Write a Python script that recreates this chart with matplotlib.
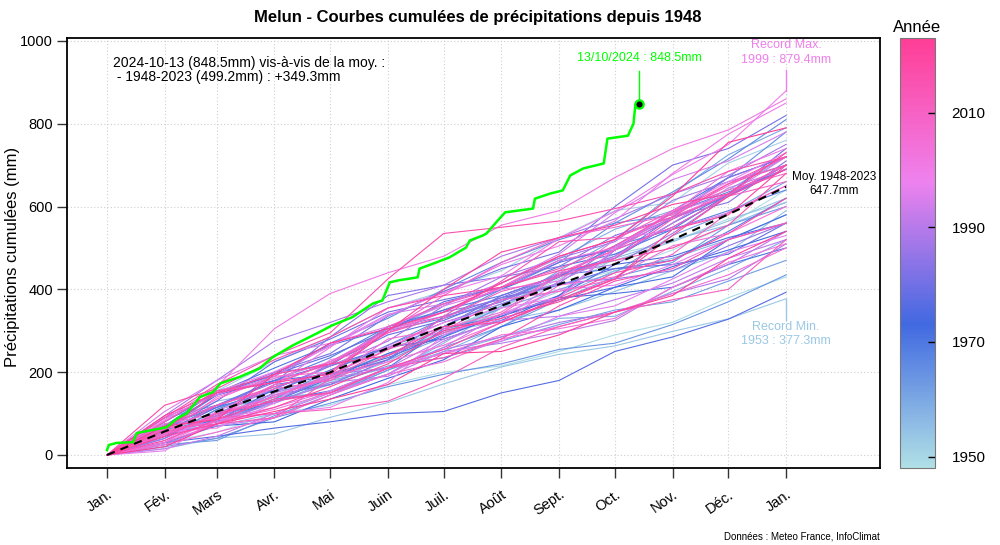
import numpy as np
import matplotlib
matplotlib.use("Agg")
import matplotlib.pyplot as plt
from matplotlib.colors import LinearSegmentedColormap, Normalize
from matplotlib.cm import ScalarMappable

plt.rcParams['font.family'] = ['Liberation Sans', 'DejaVu Sans']

# ---------------- data ----------------
month_labels = ['Jan.', 'Fév.', 'Mars', 'Avr.', 'Mai', 'Juin', 'Juil.', 'Août',
                'Sept.', 'Oct.', 'Nov.', 'Déc.', 'Jan.']
month_starts = [0, 31, 59, 90, 120, 151, 181, 212, 243, 273, 304, 334, 365]

first_year = 1948
last_year = 2023

# monthly precipitation (mm), Jan..Dec, one row per year
monthly_1940s = [
    [75, 40, 20, 45, 60, 55, 70, 45, 35, 50, 60, 85],      # 1948
    [30, 25, 45, 20, 50, 30, 15, 35, 40, 30, 60, 50],      # 1949
]
monthly_1950s = [
    [40, 70, 35, 50, 45, 60, 55, 70, 60, 30, 55, 40],      # 1950
    [80, 75, 70, 60, 70, 40, 50, 80, 65, 20, 95, 55],      # 1951
    [60, 35, 55, 65, 40, 50, 35, 55, 80, 85, 70, 70],      # 1952
    [15.2, 25.4, 10.1, 40.3, 35.6, 45.2, 40.8, 30.5, 20.4, 35.1, 30.2, 48.5],  # 1953
    [45, 55, 40, 35, 50, 75, 60, 70, 40, 45, 50, 55],      # 1954
    [70, 60, 25, 15, 70, 55, 30, 25, 45, 50, 45, 100],     # 1955
    [55, 15, 30, 55, 40, 75, 85, 80, 40, 45, 35, 55],      # 1956
    [45, 65, 30, 10, 55, 45, 60, 75, 60, 30, 45, 60],      # 1957
    [60, 85, 40, 40, 75, 65, 50, 60, 70, 45, 50, 80],      # 1958
    [75, 5, 45, 55, 30, 35, 40, 45, 5, 60, 55, 70],        # 1959
]
monthly_1960s = [
    [55, 60, 40, 30, 45, 55, 75, 85, 75, 110, 95, 65],     # 1960
    [90, 30, 10, 60, 55, 50, 60, 45, 40, 90, 55, 75],      # 1961
    [55, 25, 50, 40, 45, 20, 40, 40, 35, 20, 50, 50],      # 1962
    [25, 10, 60, 50, 60, 55, 50, 65, 55, 35, 90, 45],      # 1963
    [20, 20, 50, 35, 40, 30, 25, 35, 15, 45, 55, 65],      # 1964
    [60, 25, 50, 70, 60, 65, 70, 65, 95, 20, 90, 110],     # 1965
    [70, 85, 35, 80, 60, 70, 65, 55, 40, 75, 80, 95],      # 1966
    [40, 70, 55, 35, 100, 30, 40, 60, 75, 80, 50, 55],     # 1967
    [70, 45, 40, 50, 55, 50, 65, 55, 75, 40, 45, 50],      # 1968
    [55, 65, 60, 55, 75, 40, 35, 50, 15, 20, 70, 80],      # 1969
]
monthly_1970s = [
    [80, 70, 60, 55, 40, 45, 50, 55, 30, 60, 85, 60],      # 1970
    [60, 25, 45, 25, 55, 95, 30, 45, 10, 15, 55, 40],      # 1971
    [45, 50, 35, 55, 60, 40, 55, 35, 30, 25, 90, 60],      # 1972
    [30, 40, 10, 55, 50, 45, 80, 40, 55, 50, 40, 45],      # 1973
    [70, 75, 35, 15, 40, 55, 45, 50, 110, 95, 80, 50],     # 1974
    [60, 20, 80, 55, 45, 20, 45, 60, 75, 20, 45, 35],      # 1975
    [30, 15, 20, 15, 20, 5, 45, 30, 70, 35, 43, 65],       # 1976
    [65, 80, 50, 45, 60, 70, 35, 65, 25, 55, 75, 75],      # 1977
    [55, 60, 65, 40, 70, 35, 55, 30, 40, 10, 25, 75],      # 1978
    [60, 70, 95, 55, 65, 30, 30, 60, 35, 70, 60, 110],     # 1979
]
monthly_1980s = [
    [50, 45, 75, 20, 40, 80, 75, 50, 45, 95, 50, 75],      # 1980
    [55, 35, 110, 45, 90, 60, 55, 40, 110, 100, 40, 80],   # 1981
    [60, 20, 65, 25, 60, 105, 45, 55, 40, 85, 70, 60],     # 1982
    [70, 50, 55, 110, 100, 25, 20, 25, 75, 45, 35, 100],   # 1983
    [90, 55, 55, 15, 95, 35, 30, 40, 90, 70, 95, 50],      # 1984
    [50, 25, 55, 60, 75, 55, 45, 50, 10, 20, 60, 55],      # 1985
    [75, 10, 65, 70, 85, 30, 35, 70, 20, 75, 90, 65],      # 1986
    [40, 60, 60, 55, 60, 85, 70, 45, 40, 100, 45, 40],     # 1987
    [95, 85, 95, 45, 50, 40, 70, 45, 45, 60, 45, 75],      # 1988
    [25, 50, 55, 65, 15, 45, 30, 35, 25, 45, 35, 85],      # 1989
]
monthly_1990s = [
    [30, 75, 20, 50, 15, 60, 20, 25, 30, 80, 55, 80],      # 1990
    [50, 40, 60, 35, 25, 70, 45, 10, 40, 40, 60, 45],      # 1991
    [15, 30, 55, 50, 45, 80, 55, 90, 60, 80, 85, 45],      # 1992
    [60, 10, 20, 55, 50, 65, 80, 40, 115, 90, 45, 90],     # 1993
    [90, 55, 45, 75, 75, 25, 50, 70, 100, 80, 45, 70],     # 1994
    [105, 75, 60, 30, 40, 50, 40, 20, 100, 25, 40, 65],    # 1995
    [30, 55, 30, 40, 55, 35, 30, 60, 25, 65, 65, 40],      # 1996
    [10, 75, 15, 15, 60, 115, 50, 60, 10, 50, 60, 40],     # 1997
    [55, 10, 60, 105, 30, 60, 35, 25, 120, 90, 70, 70],    # 1998
    [82.3, 70.5, 48.2, 60.6, 75.4, 55.1, 40.3, 90.7, 65.2, 88.9, 72.6, 129.6],  # 1999
]
monthly_2000s = [
    [35, 70, 65, 90, 95, 35, 70, 45, 60, 115, 95, 75],     # 2000
    [85, 80, 140, 85, 50, 40, 75, 35, 80, 70, 45, 75],     # 2001
    [50, 90, 45, 40, 75, 45, 60, 65, 30, 85, 100, 55],     # 2002
    [60, 20, 30, 40, 60, 35, 45, 15, 25, 75, 60, 45],      # 2003
    [75, 25, 40, 50, 35, 40, 55, 90, 20, 75, 30, 65],      # 2004
    [25, 30, 35, 55, 50, 30, 55, 30, 35, 45, 45, 65],      # 2005
    [30, 45, 70, 40, 95, 25, 40, 95, 55, 80, 55, 70],      # 2006
    [65, 70, 55, 10, 100, 85, 80, 60, 25, 30, 70, 70],     # 2007
    [65, 25, 80, 55, 70, 50, 60, 75, 40, 70, 50, 40],      # 2008
    [50, 45, 45, 55, 60, 45, 75, 20, 30, 60, 100, 65],     # 2009
]
monthly_2010s = [
    [50, 70, 40, 20, 60, 55, 45, 95, 60, 55, 75, 35],      # 2010
    [55, 35, 10, 10, 20, 55, 75, 50, 35, 30, 25, 120],     # 2011
    [65, 10, 15, 95, 70, 75, 65, 35, 45, 95, 60, 70],      # 2012
    [70, 50, 45, 35, 110, 55, 40, 45, 55, 80, 70, 65],     # 2013
    [80, 75, 20, 45, 75, 40, 85, 95, 10, 50, 80, 45],      # 2014
    [45, 55, 30, 20, 60, 25, 45, 80, 60, 30, 70, 40],      # 2015
    [90, 80, 70, 55, 130, 110, 15, 15, 30, 35, 55, 35],    # 2016
    [35, 50, 50, 15, 60, 45, 65, 60, 60, 30, 65, 85],      # 2017
    [120, 40, 70, 55, 70, 30, 20, 40, 25, 30, 55, 125],    # 2018
    [45, 30, 40, 50, 55, 80, 30, 40, 55, 105, 95, 65],     # 2019
]
monthly_2020s = [
    [60, 90, 45, 25, 20, 70, 10, 55, 50, 120, 35, 120],    # 2020
    [95, 55, 25, 20, 105, 100, 90, 35, 30, 50, 25, 100],   # 2021
    [20, 55, 30, 30, 35, 75, 5, 40, 55, 40, 90, 65],       # 2022
    [70, 15, 110, 75, 35, 40, 70, 65, 40, 105, 130, 35],   # 2023
]

# 2024 cumulative curve (day of year, cumulative mm) up to 13/10/2024
days_2024 = [0, 1, 5, 14, 16, 32, 38, 43, 50, 57, 61, 71, 82, 89, 100, 113, 121,
             132, 143, 148, 152, 157, 167, 168, 177, 184, 193, 195, 202, 204,
             210, 214, 229, 230, 238, 245, 249, 256, 267, 269, 280, 283, 284, 286]
cum_2024 = [12, 24, 29, 31, 53, 67, 89, 101, 140, 152, 173, 188, 209, 236, 265,
            294, 313, 333, 366, 373, 417, 422, 429, 450, 465, 477, 501, 518, 530,
            535, 566, 586, 595, 619, 631, 639, 675, 692, 704, 764, 771, 800, 846,
            848.5]

title = "Melun - Courbes cumulées de précipitations depuis 1948"
info_line1 = "2024-10-13 (848.5mm) vis-à-vis de la moy. :"
info_line2 = " - 1948-2023 (499.2mm) : +349.3mm"
last_label = "13/10/2024 : 848.5mm"
max_year, max_value = 1999, 879.4
min_year, min_value = 1953, 377.3
mean_total = 647.7
colorbar_ticks = [1950, 1970, 1990, 2010]

# ---------------- figure ----------------
monthly = np.array(monthly_1940s + monthly_1950s + monthly_1960s + monthly_1970s
                   + monthly_1980s + monthly_1990s + monthly_2000s + monthly_2010s
                   + monthly_2020s, dtype=float)
years = np.arange(first_year, last_year + 1)
cum = np.hstack([np.zeros((len(years), 1)), np.cumsum(monthly, axis=1)])
x_nodes = np.array(month_starts, dtype=float)

cmap = LinearSegmentedColormap.from_list(
    "annee", ["powderblue", "royalblue", "violet", "#FF3E96"])
norm = Normalize(vmin=first_year, vmax=last_year)

fig = plt.figure(figsize=(10, 5.45), dpi=100)
ax = fig.add_axes([0.067, 0.1413, 0.813, 0.789])

ax.set_xlim(-21.5, 415.5)
ax.set_ylim(-31.4, 1007)

for xv in month_starts:
    ax.axvline(xv, color="#cfcfcf", lw=0.8, ls=(0, (1, 2)), zorder=0)
for yv in range(0, 1001, 200):
    ax.axhline(yv, color="#cfcfcf", lw=0.8, ls=(0, (1, 2)), zorder=0)

for i, yr in enumerate(years):
    ax.plot(x_nodes, cum[i], color=cmap(norm(yr)), lw=0.8, zorder=2)

mean_curve = cum.mean(axis=0)
ax.plot(x_nodes, mean_curve, color="black", lw=1.5, ls=(0, (4, 3)), zorder=4)

# 2024
green = "#00FF00"
ax.plot(days_2024, cum_2024, color=green, lw=1.8, zorder=5)
ax.plot([days_2024[-1], days_2024[-1]], [cum_2024[-1], 928], color=green, lw=1, zorder=5)
ax.plot(days_2024[-1], cum_2024[-1], marker="o", ms=6, mfc="black", mec=green,
        mew=1.6, zorder=6)
ax.text(days_2024[-1], 959, last_label, color=green, fontsize=9, ha="center", va="center")

# record max
cmax = cmap(norm(max_year))
ax.plot([365, 365], [max_value, 930], color=cmax, lw=1, zorder=5)
ax.text(365, 990, "Record Max.", color=cmax, fontsize=9, ha="center", va="center")
ax.text(365, 954, f"{max_year} : {max_value}mm", color=cmax, fontsize=9,
        ha="center", va="center")

# record min
cmin = cmap(norm(min_year))
ax.plot([365, 365], [min_value, 325], color=cmin, lw=1, zorder=5)
ax.text(365, 308, "Record Min.", color=cmin, fontsize=9, ha="center", va="center")
ax.text(365, 275, f"{min_year} : {min_value}mm", color=cmin, fontsize=9,
        ha="center", va="center")

# mean label
ax.text(391, 672, "Moy. 1948-2023", color="black", fontsize=8.5, ha="center", va="center")
ax.text(391, 638, f"{mean_total}mm", color="black", fontsize=8.5, ha="center", va="center")

# info text
ax.text(3, 947, info_line1, fontsize=10, ha="left", va="center")
ax.text(3, 913, info_line2, fontsize=10, ha="left", va="center")

# axes styling
ax.set_xticks(month_starts)
ax.set_xticklabels(month_labels, rotation=35, ha="right", va="top",
                   rotation_mode="anchor", fontsize=10.5)
ax.set_yticks(range(0, 1001, 200))
ax.tick_params(axis="y", labelsize=10.5, length=7, width=1, color="#333333", pad=3)
ax.tick_params(axis="x", length=7, width=1, color="#333333", pad=7)
for sp in ax.spines.values():
    sp.set_linewidth(1.3)
    sp.set_color("black")

fig.text(0.4775, 0.967, title, fontsize=12, fontweight="bold", ha="center", va="center")
fig.text(0.013, 0.528, "Précipitations cumulées (mm)", fontsize=12, rotation=90,
         ha="center", va="center")
fig.text(0.880, 0.015, "Données : Meteo France, InfoClimat", fontsize=7,
         ha="right", va="center")

# colorbar
cax = fig.add_axes([0.900, 0.1413, 0.035, 0.789])
sm = ScalarMappable(norm=norm, cmap=cmap)
cb = fig.colorbar(sm, cax=cax)
cb.set_ticks(colorbar_ticks)
cb.ax.tick_params(direction="in", length=5, width=1, labelsize=11, pad=12, color="black")
cb.outline.set_edgecolor("#777777")
cb.outline.set_linewidth(0.8)
fig.text(0.917, 0.949, "Année", fontsize=12, ha="center", va="center")

fig.savefig("out.png", dpi=100)
